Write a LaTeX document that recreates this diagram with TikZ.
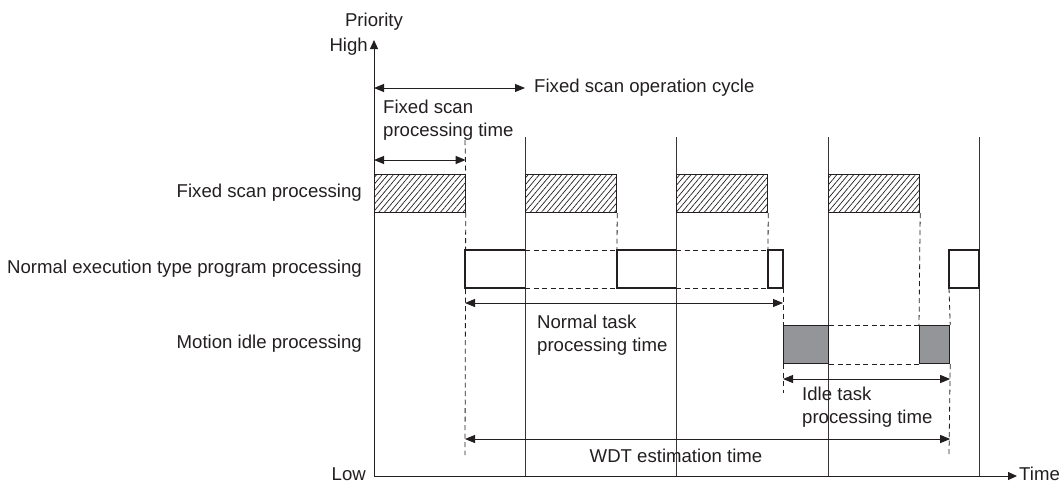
\documentclass[tikz,border=0pt]{standalone}
\usepackage{fontspec}
\setmainfont{Liberation Sans}
\usetikzlibrary{arrows.meta, patterns.meta}
\definecolor{inkgray}{HTML}{231F20}
\definecolor{idlegray}{HTML}{939598}

\begin{document}
\begin{tikzpicture}[
      x=1pt, y=-1pt,
      every node/.style={font=\fontsize{18.6}{23}\selectfont, text=inkgray, inner sep=0pt},
      axis/.style={-{Triangle[length=9pt,width=8pt]}, line width=1pt, draw=inkgray},
      span/.style={{Triangle[length=10pt,width=8pt]}-{Triangle[length=10pt,width=8pt]}, line width=0.9pt, draw=inkgray},
      cycleline/.style={line width=0.8pt, draw=inkgray!90},
      guide/.style={dash pattern=on 5pt off 3.5pt, line width=0.8pt, draw=inkgray},
      scanbox/.style={draw=inkgray, line width=1.2pt, minimum width=91pt, minimum height=38pt, anchor=north west,
        pattern={Lines[angle=50,distance=4.3pt,line width=0.7pt]}, pattern color=inkgray},
      runline/.style={line width=1.2pt, draw=inkgray},
      idlebox/.style={draw=inkgray, line width=1.2pt, fill=idlegray, minimum height=38pt, anchor=north west}
    ]
      \useasboundingbox (0,0) rectangle (1062,483);

      % axes
      \coordinate (origin) at (374,476);
      \coordinate (top) at (374,40);
      \coordinate (tend) at (1017,476);
      \draw[axis] (origin) -- (top);
      \draw[axis] (origin) -- (tend);
      \node (priority) at (374,22) {Priority};
      \node[anchor=east] (high) at (368,47) {High};
      \node[anchor=east] (low) at (366,474) {Low};
      \node[anchor=west] (time) at (1019,474) {Time};

      % cycle boundaries
      \foreach \x [count=\i] in {525,676,828,979} {
        \coordinate (cyc\i) at (\x,137);
        \draw[cycleline] (cyc\i) -- (cyc\i |- origin);
      }

      % row labels
      \node[anchor=east] (rowscan) at (362,193) {Fixed scan processing};
      \node[anchor=east] (rownormal) at (362,269) {Normal execution type program processing};
      \node[anchor=east] (rowidle) at (362,344) {Motion idle processing};

      % fixed scan processing
      \foreach \x [count=\i] in {374,525,676,828}
        \node[scanbox] (scan\i) at (\x,174) {};

      % normal execution type program processing
      \draw[runline] (525,250) -- (465,250) -- (465,288) -- (525,288);
      \draw[runline] (676,250) -- (617,250) -- (617,288) -- (676,288);
      \draw[runline] (768,250) rectangle (783,288);
      \draw[runline] (949,250) rectangle (979,288);
      \draw[guide] (525,250) -- (617,250) (525,288) -- (617,288);
      \draw[guide] (676,250) -- (768,250) (676,288) -- (768,288);

      % motion idle processing
      \node[idlebox, minimum width=45pt] (idle1) at (783,325) {};
      \node[idlebox, minimum width=30pt] (idle2) at (919,325) {};
      \draw[guide] (idle1.north east) -- (idle2.north west) (idle1.south east) -- (idle2.south west);

      % guide lines
      \draw[guide] (465,140) -- (scan1.north east);
      \draw[guide] (scan1.south east) -- (465,455);
      \draw[guide] (scan2.south east) -- (617,250);
      \draw[guide] (scan3.south east) -- (768,250);
      \draw[guide] (scan4.south east) -- (idle2.north west);
      \draw[guide] (783,288) -- (idle1.north west) (idle1.south west) -- (783,393);
      \draw[guide] (949,288) -- (idle2.north east) (idle2.south east) -- (949,455);

      % time spans
      \draw[span] (374,88) -- (cyc1 |- 0,88);
      \node[anchor=west] (cyclelabel) at (534,88) {Fixed scan operation cycle};
      \draw[span] (374,160) -- (scan1.east |- 0,160);
      \node[anchor=west, align=left] (scanlabel) at (383,120.5) {Fixed scan\\processing time};
      \draw[span] (465,303) -- (idle1.west |- 0,303);
      \node[anchor=west, align=left] (normallabel) at (537,335) {Normal task\\processing time};
      \draw[span] (idle1.west |- 0,379) -- (idle2.east |- 0,379);
      \node[anchor=west, align=left] (idlelabel) at (802,407) {Idle task\\processing time};
      \draw[span] (465,439) -- (idle2.east |- 0,439);
      \node (wdtlabel) at (676,456) {WDT estimation time};
    \end{tikzpicture}
\end{document}
